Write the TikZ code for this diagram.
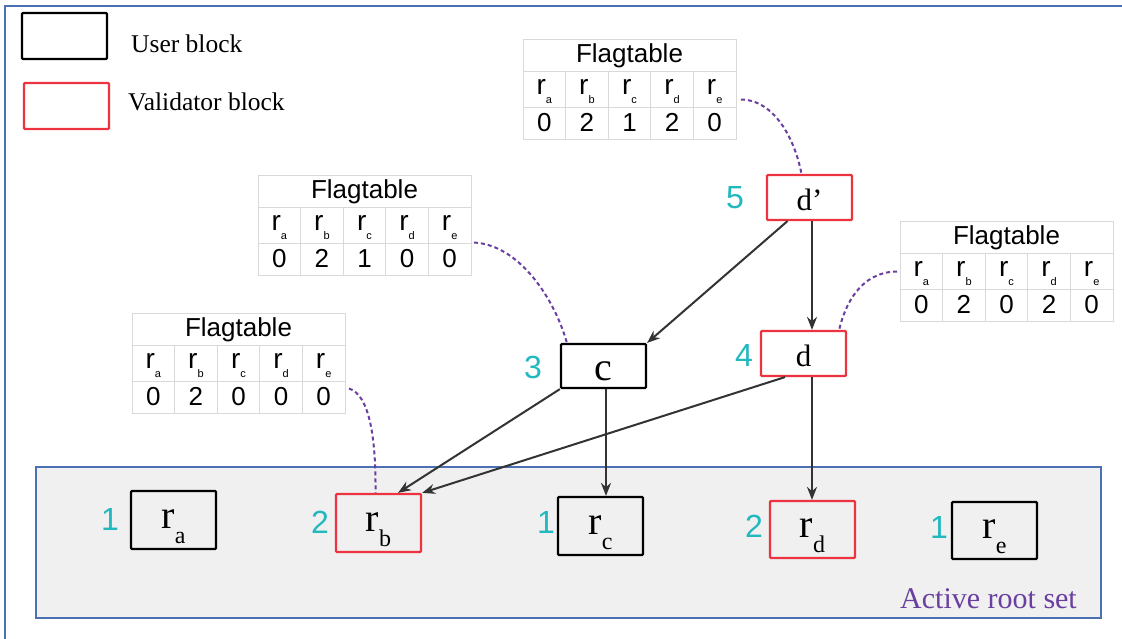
\documentclass[tikz,border=0pt]{standalone}
\usepackage{fontspec}
\setmainfont{Liberation Serif}
\setsansfont{Liberation Sans}
\usetikzlibrary{arrows.meta}
\definecolor{frameblue}{HTML}{4A72B2}
\definecolor{rootfill}{HTML}{F0F0F0}
\definecolor{vred}{HTML}{EE3340}
\definecolor{numcyan}{HTML}{22B8C0}
\definecolor{linkpurple}{HTML}{6A3FA0}
\definecolor{arrgray}{HTML}{333333}
\definecolor{gridgray}{HTML}{D9D9D9}
\newcommand{\myfs}[1]{\fontsize{#1}{#1}\selectfont}
\tikzset{
  ublock/.style={draw=black, line width=2.2pt, minimum width=85pt, inner sep=0pt, rounded corners=1pt},
  vblock/.style={draw=vred, line width=2.2pt, minimum width=85pt, inner sep=0pt, rounded corners=1pt},
  num/.style={text=numcyan, font=\sffamily\myfs{32}, inner sep=0pt},
  blocktxt/.style={font=\myfs{31}, inner sep=0pt},
  roottxt/.style={font=\myfs{40}, inner sep=0pt},
  legtxt/.style={font=\myfs{25.5}, inner sep=0pt},
  arr/.style={draw=arrgray, line width=2pt, -{Stealth[length=13pt,width=10pt]}},
  dashlink/.style={draw=linkpurple, line width=2pt, dash pattern=on 4pt off 3pt},
  tabbox/.style={draw=gridgray, line width=1pt, minimum width=213pt, minimum height=100pt, inner sep=0pt},
  tabgrid/.style={draw=gridgray, line width=1pt},
  tabtxt/.style={font=\sffamily\myfs{26}, inner sep=0pt},
  tabr/.style={font=\sffamily\myfs{28}, inner sep=0pt},
  rootset/.style={draw=frameblue, fill=rootfill, line width=2pt, inner sep=0pt}
}
\newcommand{\flagtab}[8]{%
\begin{scope}[shift={(#2,#3)}]
\node[tabbox, anchor=north west] (#1) at (0,0) {};
\draw[tabgrid] (0,32) -- (213,32) (0,68) -- (213,68);
\foreach \k in {1,...,4} \draw[tabgrid] ({42.6*\k},32) -- ({42.6*\k},100);
\node[tabtxt, anchor=base] (#1-title) at (106.5,23) {Flagtable};
\foreach \s [count=\k from 0] in {a,b,c,d,e}
  \node[tabr, anchor=base] (#1-r\k) at ({21.3+42.6*\k},55) {r\raisebox{-9pt}{\myfs{11}\s}};
\foreach \v [count=\k from 0] in {#4,#5,#6,#7,#8}
  \node[tabtxt, anchor=base] (#1-v\k) at ({21.3+42.6*\k},92) {\v};
\end{scope}}
\begin{document}
\begin{tikzpicture}[x=1pt,y=-1pt]
\useasboundingbox (0,0) rectangle (1122,638);
\fill[white] (0,0) rectangle (1122,638);
% frame
\draw[frameblue, line width=2pt] (5,640) -- (5,6) -- (1124,6);
% active root set
\node[rootset, minimum width=1065pt, minimum height=151pt] (roots) at (568.5,542.5) {};
\node[font=\myfs{30}, text=linkpurple, inner sep=0pt, anchor=base east] (rootlbl) at (1077,608) {Active root set};
% legend
\node[ublock, minimum height=46pt] (leguser) at (64.5,36) {};
\node[legtxt, anchor=base west] (legusertxt) at (131,52) {User block};
\node[vblock, minimum height=46pt] (legval) at (66.5,106) {};
\node[legtxt, anchor=base west] (legvaltxt) at (128,110) {Validator block};
% flag tables
\flagtab{t1}{523}{39}{0}{2}{1}{2}{0}
\flagtab{t2}{258}{175}{0}{2}{1}{0}{0}
\flagtab{t3}{132}{313}{0}{2}{0}{0}{0}
\flagtab{t4}{900}{221}{0}{2}{0}{2}{0}
% blocks
\node[vblock, minimum height=45pt] (dp) at (809.5,197.5) {};
\node[blocktxt, anchor=base] (dptxt) at (809.5,210) {d’};
\node[ublock, minimum height=44pt] (c) at (603.5,366) {};
\node[roottxt, anchor=base] (ctxt) at (603.5,380) {c};
\node[vblock, minimum height=45pt] (d) at (803.5,353.5) {};
\node[blocktxt, anchor=base] (dtxt) at (803.5,366) {d};
% roots
\node[ublock, minimum height=58pt] (ra) at (173.5,520) {};
\node[roottxt, anchor=base] (ratxt) at (173.5,528) {r\raisebox{-15pt}{\myfs{24}a}};
\node[vblock, minimum height=58pt] (rb) at (378.5,523) {};
\node[roottxt, anchor=base] (rbtxt) at (378.5,531) {r\raisebox{-15pt}{\myfs{24}b}};
\node[ublock, minimum height=58pt] (rc) at (600.5,526) {};
\node[roottxt, anchor=base] (rctxt) at (600.5,534) {r\raisebox{-15pt}{\myfs{24}c}};
\node[vblock, minimum height=57pt] (rd) at (812.5,529.5) {};
\node[roottxt, anchor=base] (rdtxt) at (812.5,537.5) {r\raisebox{-15pt}{\myfs{24}d}};
\node[ublock, minimum height=57pt] (re) at (994.5,530.5) {};
\node[roottxt, anchor=base] (retxt) at (994.5,538.5) {r\raisebox{-15pt}{\myfs{24}e}};
% counters
\node[num] (n5) at (735,198) {5};
\node[num] (n3) at (533,367) {3};
\node[num] (n4) at (744,355) {4};
\node[num] (n1a) at (110,519) {1};
\node[num] (n2b) at (320,522) {2};
\node[num] (n1c) at (546,522) {1};
\node[num] (n2d) at (754,526) {2};
\node[num] (n1e) at (939,527) {1};
% dashed links
\draw[dashlink] ([shift={(4,10)}]t1.east) .. controls (775,100) and (795,140) .. ([shift={(-8,0)}]dp.north);
\draw[dashlink] ([shift={(2,17)}]t2.east) .. controls (520,245) and (555,300) .. ([shift={(7,0)}]c.north west);
\draw[dashlink] ([shift={(3,25)}]t3.east) .. controls (370,395) and (376,440) .. ([shift={(-3,0)}]rb.north);
\draw[dashlink] ([shift={(-3,0)}]t4.west) .. controls (860,272) and (845,305) .. ([shift={(-8,0)}]d.north east);
% arrows
\draw[arr] ([shift={(-22,0)}]dp.south) -- (c.north east);
\draw[arr] ([shift={(2.5,0)}]dp.south) -- ([shift={(8.5,0)}]d.north);
\draw[arr] (c.south west) -- ([shift={(19.5,0)}]rb.north);
\draw[arr] ([shift={(-18.5,0)}]d.south) -- (rb.north east);
\draw[arr] ([shift={(2.5,0)}]c.south) -- ([shift={(5.5,0)}]rc.north);
\draw[arr] ([shift={(8.5,0)}]d.south) -- ([shift={(-0.5,0)}]rd.north);
\end{tikzpicture}
\end{document}
